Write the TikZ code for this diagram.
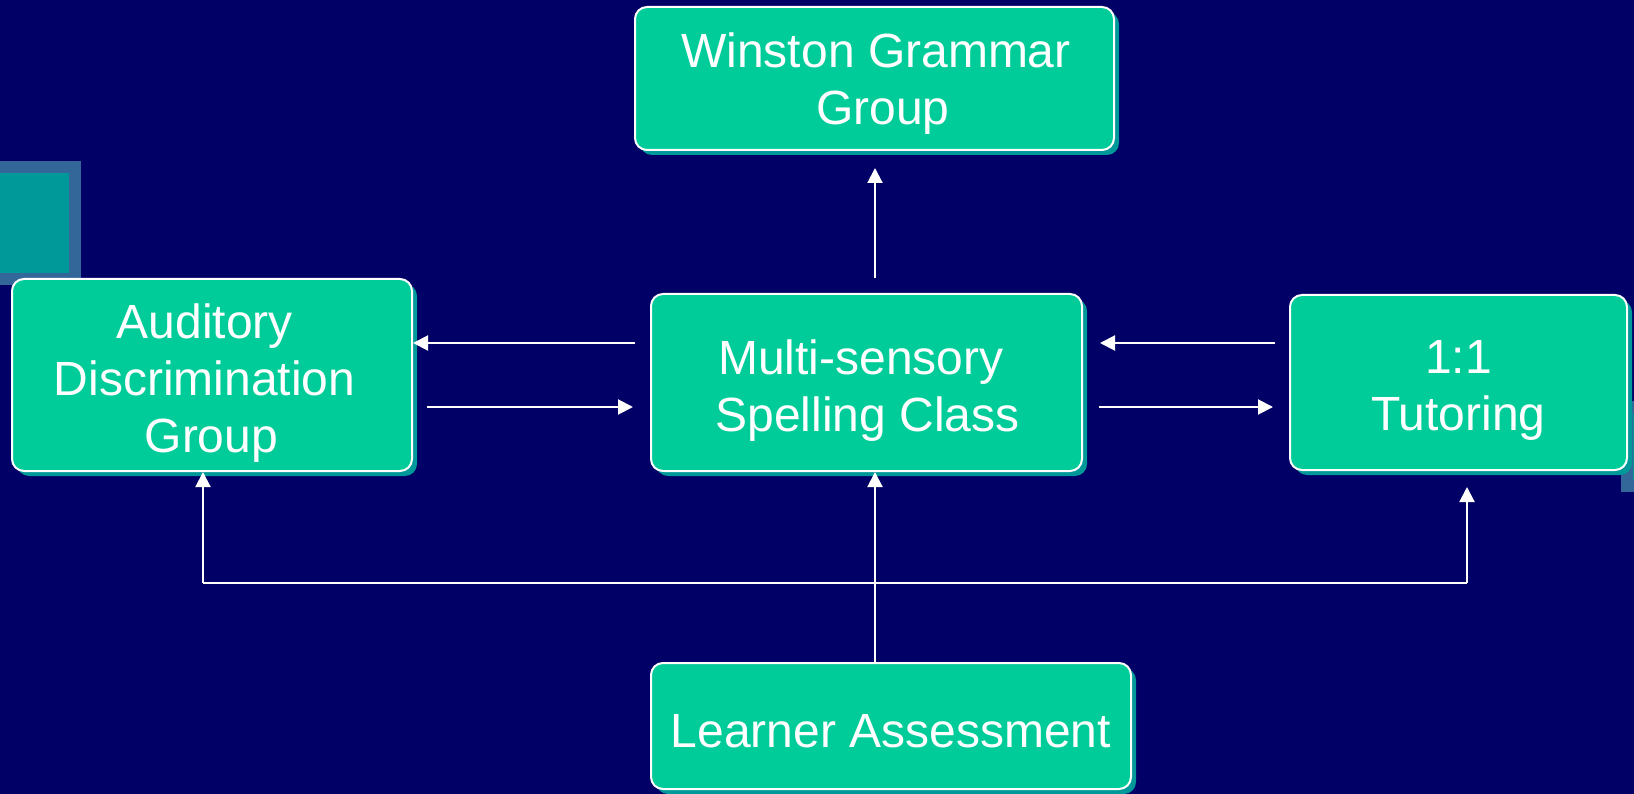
\documentclass[tikz,border=0pt]{standalone}
\usepackage{fontspec}
\setmainfont{Liberation Sans}
\usetikzlibrary{arrows.meta,shadows,calc}
\definecolor{navybg}{RGB}{0,0,102}
\definecolor{boxgreen}{RGB}{0,204,153}
\definecolor{shadowteal}{RGB}{0,153,153}
\definecolor{decoblue}{RGB}{51,102,153}
\newcommand\trsp{\hspace*{0.278em}}
\begin{document}
\begin{tikzpicture}[x=1pt,y=-1pt,
  flowbox/.style={rectangle, rounded corners=12pt, fill=boxgreen, draw=white,
    line width=2pt, inner sep=0pt,
    drop shadow={shadow xshift=5pt, shadow yshift=-5pt, fill=shadowteal, opacity=1}},
  boxtext/.style={text=white, align=center, inner sep=0pt,
    font=\fontsize{48}{57}\selectfont},
  arr/.style={draw=white, line width=2pt, -{Triangle[length=15pt,width=15pt]}},
  plain/.style={draw=white, line width=2pt}
]
\fill[navybg] (0,0) rectangle (1634,794);
\useasboundingbox (0,0) rectangle (1634,794);
% decorative squares
\fill[decoblue] (-5,161) rectangle (81,285);
\fill[shadowteal] (-5,173) rectangle (69,273);
\fill[decoblue] (1621,401) rectangle (1640,492);
\fill[shadowteal] (1633,413) rectangle (1640,480);
% boxes
\node[flowbox, minimum width=479pt, minimum height=143pt] (win) at (874.5,78.5) {};
\node[flowbox, minimum width=400pt, minimum height=192pt] (aud) at (212,375) {};
\node[flowbox, minimum width=431pt, minimum height=177pt] (multi) at (866.5,382.5) {};
\node[flowbox, minimum width=337pt, minimum height=175pt] (tut) at (1458.5,382.5) {};
\node[flowbox, minimum width=480pt, minimum height=126pt] (learn) at (891,726) {};
% texts
\node[boxtext] (wint) at ($(win.center)+(8.2,5.2)$) {Winston Grammar\trsp\\Group};
\node[boxtext] (audt) at ($(aud.center)+(-7.3,8.3)$) {Auditory\\Discrimination\\\trsp Group};
\node[boxtext] (multit) at ($(multi.center)+(1,7.8)$) {Multi-sensory\trsp\\Spelling Class};
\node[boxtext] (tutt) at ($(tut.center)+(0,7.8)$) {1:1\\Tutoring};
\node[boxtext] (learnt) at ($(learn.center)+(0,5.2)$) {Learner Assessment};
% connectors
\coordinate (junc) at (875,583);
\draw[arr] ($(multi.west)+(-15,-39.5)$) -- ($(aud.east)+(0,-32)$);
\draw[arr] ($(aud.east)+(14,32)$) -- ($(multi.west)+(-17,24.5)$);
\draw[arr] ($(tut.west)+(-14,-39.5)$) -- ($(multi.east)+(17,-39.5)$);
\draw[arr] ($(multi.east)+(16,24.5)$) -- ($(tut.west)+(-16,24.5)$);
\draw[arr] ($(multi.north)+(8.5,-15)$) -- ($(win.south)+(0.5,17)$);
\draw[plain] (learn.north -| junc) -- (junc);
\draw[arr] (junc) -- (multi.south -| junc);
\draw[plain] (203,583) -- (1467,583);
\draw[arr] (203,583) -- (aud.south -| 203,583);
\draw[arr] (1467,583) -- ($(tut.south -| 1467,583)+(0,16)$);
\end{tikzpicture}
\end{document}
